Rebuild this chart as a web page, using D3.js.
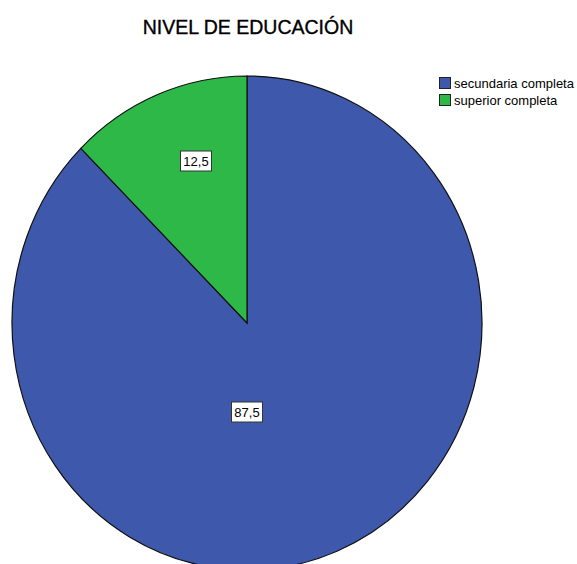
<!DOCTYPE html>
<html><head><meta charset="utf-8">
<script src="https://cdn.jsdelivr.net/npm/d3@7"></script>
<style>body{margin:0;background:#fff}svg{display:block}</style>
</head><body>
<script>
const title = "NIVEL DE EDUCACIÓN";
const categories = ["secundaria completa", "superior completa"];
const values = [87.5, 12.5];
const valueLabels = ["87,5", "12,5"];
const colors = ["#3E58AC", "#2EB848"];

const W = 577, H = 564;
const cx = 247, cy = 323, rx = 235, ry = 247;
const svg = d3.select("body").append("svg").attr("width", W).attr("height", H);

svg.append("text").attr("x", 248).attr("y", 34).attr("text-anchor", "middle")
  .attr("font-family", "Liberation Sans, Arial, sans-serif").attr("font-size", 19.5)
  .attr("stroke", "#000").attr("stroke-width", 0.35)
  .attr("fill", "#000").text(title);

const pie = d3.pie().sort(null).value(d => d);
const arcs = pie(values);
const arc = d3.arc().innerRadius(0).outerRadius(rx);

const g = svg.append("g").attr("transform", `translate(${cx},${cy}) scale(1,${ry/rx})`);
g.selectAll("path").data(arcs).join("path")
  .attr("d", arc).attr("fill", (d, i) => colors[i])
  .attr("stroke", "#111").attr("stroke-width", 1.2).attr("vector-effect", "non-scaling-stroke");

// label placement (layout offsets relative to pie centre)
const labelPos = [[0, 89], [-51, -162]];
const lg = svg.append("g").attr("font-family", "Liberation Sans, Arial, sans-serif").attr("font-size", 13);
arcs.forEach((d, i) => {
  const x = cx + labelPos[i][0], y = cy + labelPos[i][1];
  lg.append("rect").attr("x", x - 15.5).attr("y", y - 10).attr("width", 31).attr("height", 20)
    .attr("fill", "#fff").attr("stroke", "#333").attr("stroke-width", 1);
  lg.append("text").attr("x", x).attr("y", y + 5).attr("text-anchor", "middle").text(valueLabels[i]);
});

const leg = svg.append("g").attr("font-family", "Liberation Sans, Arial, sans-serif").attr("font-size", 13);
categories.forEach((c, i) => {
  const y = 77 + i * 17;
  leg.append("rect").attr("x", 439.5).attr("y", y + 0.5).attr("width", 11).attr("height", 11)
    .attr("fill", colors[i]).attr("stroke", "#222").attr("stroke-width", 1);
  leg.append("text").attr("x", 454).attr("y", y + 10.5).text(c);
});
</script>
</body></html>
